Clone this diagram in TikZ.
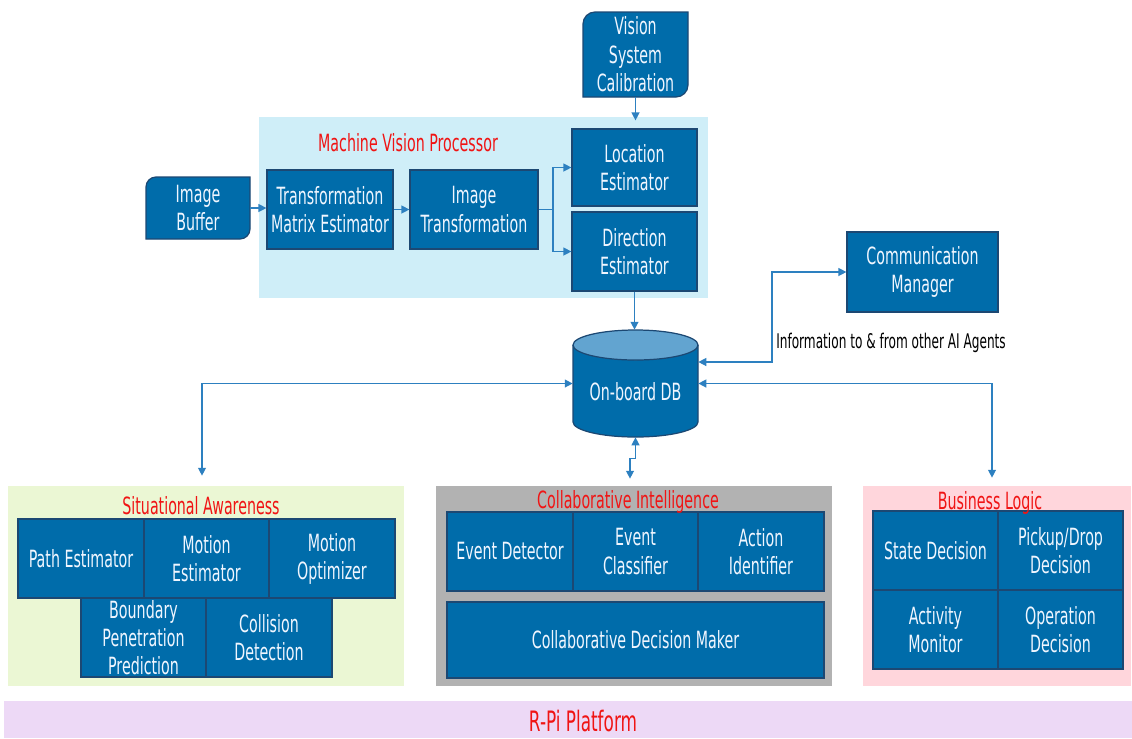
\documentclass[tikz,border=0pt]{standalone}
\usepackage{fontspec}
\setmainfont{DejaVu Sans}[FakeStretch=0.6]
\usetikzlibrary{arrows.meta,calc}

\definecolor{boxblue}{RGB}{0,108,170}
\definecolor{boxedge}{RGB}{28,72,115}
\definecolor{boxtext}{RGB}{240,246,255}
\definecolor{dbtop}{RGB}{98,164,208}
\definecolor{cyanbg}{RGB}{207,238,248}
\definecolor{greenbg}{RGB}{235,247,212}
\definecolor{graybg}{RGB}{178,178,178}
\definecolor{pinkbg}{RGB}{255,214,220}
\definecolor{lavbg}{RGB}{237,217,246}
\definecolor{titlered}{RGB}{240,20,20}
\definecolor{connblue}{RGB}{45,128,192}

\tikzset{
  boxfont/.style={font=\fontsize{13.5}{16}\selectfont},
  blk/.style={boxfont, fill=boxblue, draw=boxedge, line width=0.7pt,
    text=boxtext, align=center, inner sep=0pt},
  blkshape/.style={fill=boxblue, draw=boxedge, line width=0.7pt},
  plain/.style={boxfont, text=boxtext, align=center, inner sep=0pt},
  region/.style={inner sep=0pt, draw=none},
  ttl/.style={boxfont, text=titlered, inner sep=0pt},
  tip/.tip={Triangle[length=4.5pt,width=4.5pt]},
  connline/.style={draw=connblue, line width=0.75pt},
  conn/.style={connline, -tip},
  biconn/.style={connline, tip-tip},
}

% box given by its corners (x1,y1) (x2,y2) in pixel units
\newcommand{\blkat}[6]{%
  \node[blk, minimum width={(#4-(#2))*0.02cm}, minimum height={(#5-(#3))*0.02cm}]
    (#1) at ({(#2+#4)/2},{(#3+#5)/2}) {#6};}
% background area: name, corners, colour, text
\newcommand{\regionat}[7]{%
  \node[region, fill=#6, minimum width={(#4-(#2))*0.02cm}, minimum height={(#5-(#3))*0.02cm}]
    (#1) at ({(#2+#4)/2},{(#3+#5)/2}) {#7};}

\begin{document}
\begin{tikzpicture}[x=0.02cm, y=-0.02cm]
\useasboundingbox (0,0) rectangle (1132,738);

% background areas
\regionat{mvp}{259}{117}{708}{298}{cyanbg}{}
\regionat{sa}{8}{486}{404}{686}{greenbg}{}
\regionat{ci}{436}{486}{832}{686}{graybg}{}
\regionat{bl}{863}{486}{1131}{686}{pinkbg}{}
\regionat{rpi}{4}{701}{1132}{738}{lavbg}{}
\node[ttl, font=\fontsize{16}{19}\selectfont] (rpiT) at (583,721) {R-Pi Platform};

% input blocks with two rounded corners
\path[blkshape] (146,239) -- (146,187) .. controls (146,181.48) and (150.48,177) .. (156,177)
  -- (250,177) -- (250,229) .. controls (250,234.52) and (245.52,239) .. (240,239) -- cycle;
\node[plain, minimum width=2.08cm, minimum height=1.24cm] (ib) at (198,208) {Image\\Buffer};

\path[blkshape] (583,97) -- (583,24) .. controls (583,17.38) and (588.38,12) .. (595,12)
  -- (688,12) -- (688,85) .. controls (688,91.62) and (682.62,97) .. (676,97) -- cycle;
\node[plain, font=\fontsize{13.5}{16.2}\selectfont, minimum width=2.1cm, minimum height=1.7cm]
  (vsc) at (635.5,54.5) {Vision\\System\\Calibration};

% machine vision processor
\blkat{tme}{267}{170}{393}{249}{Transformation\\Matrix Estimator}
\blkat{it}{410}{170}{538}{249}{Image\\Transformation}
\blkat{loc}{572}{129}{697}{206}{Location\\Estimator}
\blkat{dir}{572}{212}{697}{291}{Direction\\Estimator}
\node[ttl] (mvpT) at (408,143) {Machine Vision Processor};

% communication
\blkat{cm}{847}{232}{998}{312}{Communication\\Manager}

% on-board database
\filldraw[fill=boxblue, draw=boxedge, line width=0.7pt]
  (573,345) -- (573,422) arc[start angle=180, end angle=0, x radius=62.5, y radius=15] -- (698,345);
\filldraw[fill=dbtop, draw=boxedge, line width=0.7pt] (635.5,345) ellipse[x radius=62.5, y radius=15];
\node[region, minimum width=2.5cm, minimum height=2.14cm] (db) at (635.5,383.5) {};
\node[plain] (dbtxt) at (635.5,392) {On-board DB};

% situational awareness
\blkat{pe}{18}{519}{144}{598}{Path Estimator}
\blkat{me}{144}{519}{269}{598}{Motion\\Estimator}
\blkat{mo}{269}{519}{395}{598}{Motion\\Optimizer}
\blkat{bpp}{81}{598}{206}{677}{Boundary\\Penetration\\Prediction}
\blkat{cd}{206}{598}{332}{677}{Collision\\Detection}
\node[ttl] (saT) at (201,506) {Situational Awareness};

% collaborative intelligence
\blkat{ed}{447}{512}{573}{591}{Event Detector}
\blkat{ec}{573}{512}{698}{591}{Event\\Classifier}
\blkat{ai}{698}{512}{824}{591}{Action\\Identifier}
\blkat{cdm}{447}{602}{824}{678}{Collaborative Decision Maker}
\node[ttl] (ciT) at (628,502) {Collaborative Intelligence};

% business logic
\blkat{sd}{873}{511}{998}{590}{State Decision}
\blkat{pd}{998}{511}{1123}{590}{Pickup/Drop\\Decision}
\blkat{am}{873}{590}{998}{669}{Activity\\Monitor}
\blkat{od}{998}{590}{1123}{669}{Operation\\Decision}
\node[ttl] (blT) at (990,503) {Business Logic};

% connectors inside the vision processor
\draw[conn] (ib.east) -- (ib.east -| tme.west);
\draw[conn] (tme.east) -- (it.west);
\coordinate (split) at (553,209.5);
\draw[connline] (it.east) -- (split);
\draw[conn] (split) |- (loc.west);
\draw[conn] (split) |- (dir.west);
\draw[conn, shorten >=0.16cm] (vsc.south) -- (vsc.south |- loc.north);
\draw[conn] (dir.south) -- (dir.south |- db.north);

% links of the database
\coordinate (dbne) at ($(db.east)+(0,-21.5)$);
\coordinate (cmturn) at (772,0);
\draw[biconn] (cm.west) -| (cmturn |- dbne) -- (dbne);
\node[font=\fontsize{11.5}{14}\selectfont, inner sep=0pt] (info) at (891,343)
  {Information to \& from other AI Agents};

\coordinate (blin) at ($(bl.north)+(-5,-8)$);
\draw[biconn] (db.east) -| (blin);
\coordinate (sain) at ($(sa.north)+(-4,-10)$);
\draw[biconn] (db.west) -| (sain);
\coordinate (ciin) at ($(ci.north)+(-4,-7)$);
\draw[biconn] (db.south) -- ++(0,21) -| (ciin);

\end{tikzpicture}
\end{document}
